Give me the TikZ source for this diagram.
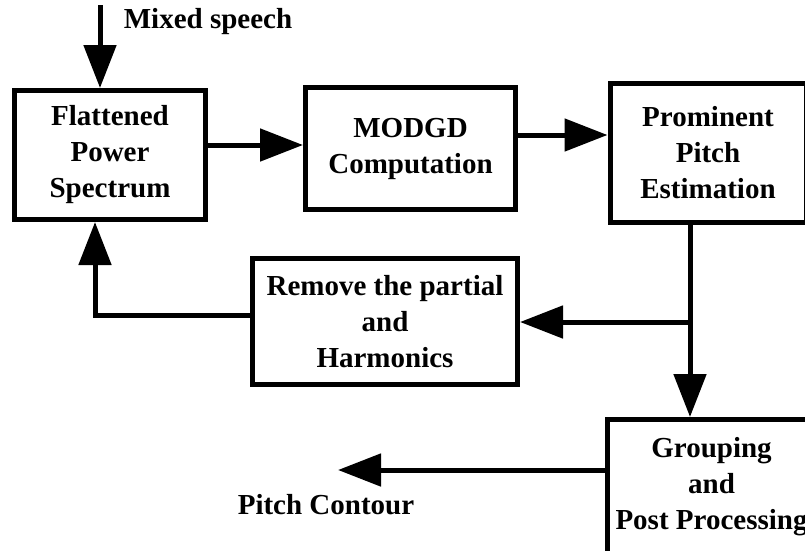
\documentclass[tikz,border=0pt]{standalone}
\usepackage{fontspec}
\setmainfont{Liberation Serif}
\usetikzlibrary{arrows.meta,positioning}

\tikzset{
	blk/.style={rectangle, draw, line width=5pt, align=center, inner sep=0pt, font=\bfseries\fontsize{29}{36}\selectfont},
	arr/.style={line width=5pt, -{Triangle[length=43pt,width=32pt]}},
	lbl/.style={inner sep=0pt, font=\bfseries\fontsize{29}{36}\selectfont},
}

\begin{document}
\begin{tikzpicture}[x=1pt, y=-1pt]
	\useasboundingbox (0,0) rectangle (805,550);

	\node[blk, minimum width=191pt, minimum height=129pt] (fps) at (110,155) {Flattened\\Power\\Spectrum};
	\node[blk, minimum width=210pt, minimum height=122pt] (mod) at (410.5,148.5) {MODGD\\Computation};
	\node[blk, minimum width=196pt, minimum height=139pt] (ppe) at (708,153) {Prominent\\Pitch\\Estimation};
	\node[blk, minimum width=265pt, minimum height=126pt] (rem) at (385,321.5) {Remove the partial\\and\\Harmonics};
	\node[blk, minimum width=208pt, minimum height=135pt] (grp) at (711.5,487) {Grouping\\and\\Post Processing};

	\node[lbl] (mix) at (208,22) {Mixed speech};
	\node[lbl] (pc) at (326,505) {Pitch Contour};

	\coordinate (src) at (100,5);
	\coordinate (fork) at (690,322);
	\coordinate (back) at (95,315);
	\coordinate (out) at (338,470);

	\draw[arr] (src) -- (src |- fps.north);
	\draw[arr] ([yshift=10pt]fps.east) -- ([yshift=10pt]fps.east -| mod.west);
	\draw[arr] ([yshift=13.5pt]mod.east) -- ([yshift=13.5pt]mod.east -| ppe.west);
	\draw[arr] (fork |- ppe.south) -- (fork |- grp.north);
	\draw[arr] (fork) -- (fork -| rem.east);
	\draw[arr] (back -| rem.west) -- (back) -- (back |- fps.south);
	\draw[arr] ([yshift=17pt]grp.west) -- (out);
\end{tikzpicture}
\end{document}
